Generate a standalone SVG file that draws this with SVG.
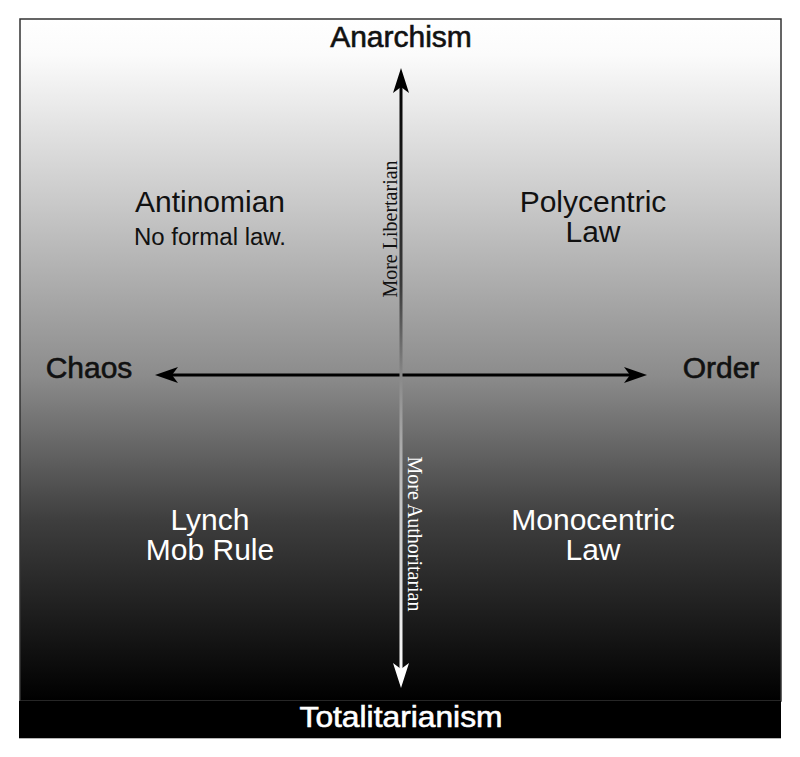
<svg xmlns="http://www.w3.org/2000/svg" width="800" height="757" viewBox="0 0 800 757">
  <defs>
    <linearGradient id="bg" gradientUnits="userSpaceOnUse" x1="0" y1="19" x2="0" y2="701">
      <stop offset="0" stop-color="#ffffff"/>
      <stop offset="0.053" stop-color="#fbfbfb"/>
      <stop offset="0.265" stop-color="#cacaca"/>
      <stop offset="0.522" stop-color="#8c8c8c"/>
      <stop offset="0.735" stop-color="#3e3e3e"/>
      <stop offset="0.925" stop-color="#111111"/>
      <stop offset="1" stop-color="#000000"/>
    </linearGradient>
    <linearGradient id="vline" gradientUnits="userSpaceOnUse" x1="0" y1="70" x2="0" y2="686">
      <stop offset="0" stop-color="#000000"/>
      <stop offset="0.35" stop-color="#3a3a3a"/>
      <stop offset="0.5" stop-color="#8a8a8a"/>
      <stop offset="0.7" stop-color="#c4c4c4"/>
      <stop offset="1" stop-color="#ffffff"/>
    </linearGradient>
  </defs>
  <style>
    .big { font-family: "Liberation Sans", Arial, sans-serif; font-size: 30px; text-anchor: middle; }
    .axis { stroke-width: 0.6px; }
    .dark { fill: #111111; }
    .darkst { stroke: #111111; }
    .light { fill: #ffffff; }
    .lightst { stroke: #ffffff; }
    .sub { font-family: "Liberation Sans", Arial, sans-serif; font-size: 23px; text-anchor: middle; }
    .rot { font-family: "Liberation Serif", "Times New Roman", serif; font-size: 20px; text-anchor: middle; }
  </style>

  <g id="background">
    <rect x="20" y="19" width="761" height="682" fill="url(#bg)" stroke="#333333" stroke-width="1.5"/>
    <rect x="19" y="701" width="762" height="37" fill="#000000"/>
    <line x1="19" y1="738.5" x2="781" y2="738.5" stroke="#b5b5b5" stroke-width="1"/>
  </g>

  <g id="connectors">
    <g id="horizontal-axis">
      <line x1="170" y1="375" x2="632" y2="375" stroke="#000000" stroke-width="3"/>
      <path d="M155,375 L178,367 L172,375 L178,383 Z" fill="#000000"/>
      <path d="M647,375 L624,367 L630,375 L624,383 Z" fill="#000000"/>
    </g>
    <g id="vertical-axis">
      <line x1="401" y1="84" x2="401" y2="672" stroke="url(#vline)" stroke-width="3"/>
      <path d="M401,68 L409,93 L401,87 L393,93 Z" fill="#000000"/>
      <path d="M401,688 L409,663 L401,669 L393,663 Z" fill="#ffffff"/>
    </g>
  </g>

  <g id="anarchism">
    <text class="big axis dark darkst" x="401" y="47">Anarchism</text>
  </g>
  <g id="totalitarianism">
    <text class="big axis light lightst" x="401" y="727" textLength="203" lengthAdjust="spacingAndGlyphs">Totalitarianism</text>
  </g>
  <g id="chaos">
    <text class="big axis dark darkst" x="89" y="378">Chaos</text>
  </g>
  <g id="order">
    <text class="big axis dark darkst" x="721" y="378">Order</text>
  </g>

  <g id="antinomian">
    <text class="big dark" x="210" y="212">Antinomian</text>
    <text class="sub dark" x="210" y="245" textLength="152" lengthAdjust="spacingAndGlyphs">No formal law.</text>
  </g>
  <g id="polycentric-law">
    <text class="big dark" x="593" y="212">Polycentric</text>
    <text class="big dark" x="593" y="242">Law</text>
  </g>
  <g id="lynch-mob-rule">
    <text class="big light" x="210" y="530">Lynch</text>
    <text class="big light" x="210" y="560">Mob Rule</text>
  </g>
  <g id="monocentric-law">
    <text class="big light" x="593" y="530">Monocentric</text>
    <text class="big light" x="593" y="560">Law</text>
  </g>

  <g id="more-libertarian">
    <text class="rot dark" transform="translate(397,229) rotate(-90)">More Libertarian</text>
  </g>
  <g id="more-authoritarian">
    <text class="rot light" transform="translate(408,534) rotate(90)">More Authoritarian</text>
  </g>
</svg>
